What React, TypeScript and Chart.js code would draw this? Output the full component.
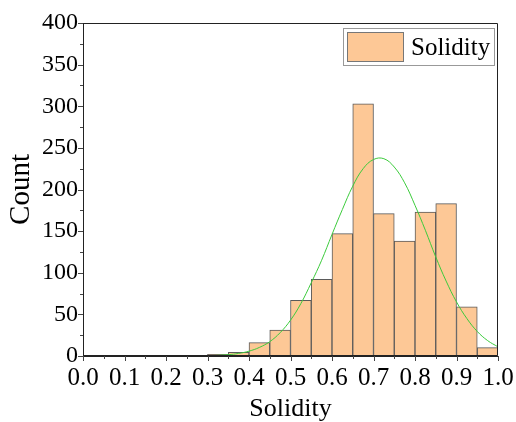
import React, { useEffect, useRef } from "react";
import { Chart, registerables } from "chart.js";

Chart.register(...registerables);

const binCenters = [0.325, 0.375, 0.425, 0.475, 0.525, 0.575, 0.625, 0.675, 0.725, 0.775, 0.825, 0.875, 0.925, 0.975];
const counts = [2, 4.5, 16, 31, 67, 92, 147, 303, 171, 138, 173, 183, 59, 10];

const curveX = [0.3, 0.325, 0.35, 0.375, 0.4, 0.425, 0.45, 0.475, 0.5, 0.525, 0.55, 0.575, 0.6, 0.625, 0.65, 0.675, 0.7, 0.725, 0.75, 0.775, 0.8, 0.825, 0.85, 0.875, 0.9, 0.925, 0.95, 0.975, 1.0];
const curveY = [0.4, 0.8, 1.6, 3.1, 5.8, 10.3, 17.2, 28, 43, 63, 88, 115, 146, 176, 204, 225, 236, 237, 227, 208, 181, 151, 119, 90, 65, 45, 29.5, 18.5, 11];

const xTicks = [0.0, 0.1, 0.2, 0.3, 0.4, 0.5, 0.6, 0.7, 0.8, 0.9, 1.0];
const seriesLabel = "Solidity";
const xTitle = "Solidity";
const yTitle = "Count";

const FONT = "'Liberation Serif', 'Times New Roman', serif";

const framePlugin = {
  id: "frameTicks",
  afterDraw(chart: any) {
    const ctx = chart.ctx;
    const { left, right, top, bottom } = chart.chartArea;
    const xs = chart.scales.x;
    const ys = chart.scales.y;
    ctx.save();
    ctx.strokeStyle = "#222";
    ctx.lineWidth = 1;
    ctx.beginPath();
    ctx.rect(left + 0.5, top + 0.5, right - left - 1, bottom - top - 1);
    ctx.stroke();
    ctx.strokeStyle = "#444";
    ctx.beginPath();
    for (let i = 0; i <= 20; i++) {
      const v = i * 0.05;
      const px = Math.round(xs.getPixelForValue(v)) + 0.5;
      const len = i % 2 === 0 ? 5 : 3;
      ctx.moveTo(px, bottom);
      ctx.lineTo(px, bottom + len);
    }
    for (let i = 0; i <= 16; i++) {
      const v = i * 25;
      const py = Math.round(ys.getPixelForValue(v)) + 0.5;
      const len = i % 2 === 0 ? 5 : 3;
      ctx.moveTo(left, py);
      ctx.lineTo(left - len, py);
    }
    ctx.stroke();

    // legend
    const bx = right - 155, by = top + 5, bw = 152, bh = 38;
    ctx.strokeStyle = "#999";
    ctx.fillStyle = "#fff";
    ctx.fillRect(bx, by, bw, bh);
    ctx.strokeRect(bx + 0.5, by + 0.5, bw - 1, bh - 1);
    const ds = chart.data.datasets[0];
    ctx.fillStyle = ds.backgroundColor;
    ctx.fillRect(bx + 4, by + 4, 57, 30);
    ctx.strokeStyle = "#777";
    ctx.strokeRect(bx + 4.5, by + 4.5, 56, 29);
    ctx.fillStyle = "#000";
    ctx.font = `25px ${FONT}`;
    ctx.textBaseline = "middle";
    ctx.textAlign = "left";
    ctx.fillText(ds.label, bx + 68, by + bh / 2 + 1);
    ctx.restore();
  },
};

export default function App() {
  const ref = useRef<HTMLCanvasElement | null>(null);
  useEffect(() => {
    document.body.style.margin = "0";
    const canvas = ref.current!;
    const chart = new Chart(canvas, {
      type: "bar",
      data: {
        datasets: [
          {
            type: "bar",
            label: seriesLabel,
            data: binCenters.map((x, i) => ({ x, y: counts[i] })),
            backgroundColor: "#FDC896",
            borderColor: "#5a5a5a",
            borderWidth: 1,
            barPercentage: 1,
            categoryPercentage: 1,
            order: 2,
          } as any,
          {
            type: "line",
            label: "fit",
            data: curveX.map((x, i) => ({ x, y: curveY[i] })),
            borderColor: "#3CCB3C",
            borderWidth: 1,
            pointRadius: 0,
            tension: 0.4,
            fill: false,
            order: 1,
          } as any,
        ],
      },
      options: {
        responsive: false,
        animation: false,
        layout: { padding: { left: 0, right: 18, top: 23, bottom: 0 } },
        plugins: {
          legend: { display: false },
          tooltip: { enabled: false },
        },
        scales: {
          x: {
            type: "linear",
            min: 0,
            max: 1,
            offset: false,
            grid: { display: false, drawTicks: false },
            border: { display: true, color: "#222", width: 1 },
            afterBuildTicks: (s: any) => {
              s.ticks = xTicks.map((v) => ({ value: v }));
            },
            ticks: {
              color: "#000",
              font: { family: FONT, size: 25 },
              padding: 7,
              maxRotation: 0,
              autoSkip: false,
              callback: (v: any) => Number(v).toFixed(1),
            },
            title: {
              display: true,
              text: xTitle,
              color: "#000",
              font: { family: FONT, size: 26 },
              padding: { top: 0, bottom: -3 },
            },
            afterFit: (s: any) => {
              s.height = 66;
              s.paddingLeft = 0;
              s.paddingRight = 0;
            },
          },
          y: {
            min: 0,
            max: 400,
            grid: { display: false, drawTicks: false },
            border: { display: true, color: "#222", width: 1 },
            ticks: {
              stepSize: 50,
              color: "#000",
              font: { family: FONT, size: 24 },
              padding: 5,
            },
            title: {
              display: true,
              text: yTitle,
              color: "#000",
              font: { family: FONT, size: 29 },
              padding: { top: 4, bottom: 0 },
            },
            afterFit: (s: any) => {
              s.width = 83;
              s.paddingTop = 0;
              s.paddingBottom = 0;
            },
          },
        },
      },
      plugins: [framePlugin],
    });
    return () => chart.destroy();
  }, []);
  return (
    <div style={{ width: 516, height: 422 }}>
      <canvas ref={ref} width={516} height={422} />
    </div>
  );
}
